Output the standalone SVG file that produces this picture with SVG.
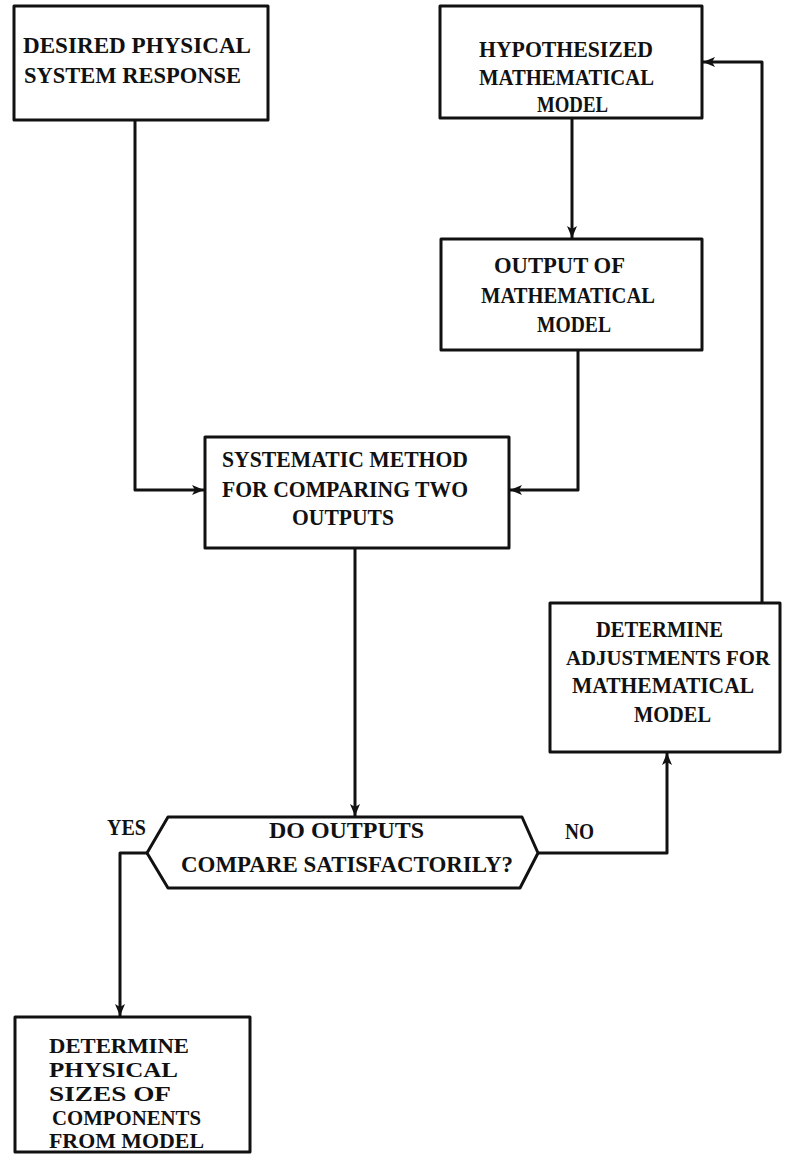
<svg xmlns="http://www.w3.org/2000/svg" width="787" height="1170" viewBox="0 0 787 1170">
<defs>
<style>
.box{fill:none;stroke:#111;stroke-width:3;stroke-linejoin:round}
.ln{fill:none;stroke:#111;stroke-width:3;stroke-linejoin:round}
text{font-family:"Liberation Serif","Times New Roman",serif;font-weight:bold;font-size:24px;fill:#111}
.lbl{font-size:23px}
.sm{font-size:20px}
.md{font-size:21px}
</style>
<marker id="ah" viewBox="0 0 12 10" refX="12" refY="5" markerWidth="12" markerHeight="10" markerUnits="userSpaceOnUse" orient="auto">
<path d="M0,0 L12,5 L0,10 L3,5 Z" fill="#111"/>
</marker>
</defs>
<rect width="787" height="1170" fill="#fff"/>
<g id="connectors">
<path class="ln" d="M135,120 V490 H204" marker-end="url(#ah)"/>
<path class="ln" d="M572,118 V238" marker-end="url(#ah)"/>
<path class="ln" d="M578,350 V490 H510" marker-end="url(#ah)"/>
<path class="ln" d="M355,548 V816" marker-end="url(#ah)"/>
<path class="ln" d="M147,853 H120 V1016" marker-end="url(#ah)"/>
<path class="ln" d="M538,853 H667 V753" marker-end="url(#ah)"/>
<path class="ln" d="M762,603 V62 H703" marker-end="url(#ah)"/>
</g>
<g id="desired">
<rect class="box" x="14" y="6" width="254" height="114"/>
<text x="23" y="53" textLength="228" lengthAdjust="spacingAndGlyphs">DESIRED PHYSICAL</text>
<text x="24" y="83" textLength="217" lengthAdjust="spacingAndGlyphs">SYSTEM RESPONSE</text>
</g>
<g id="hypothesized">
<rect class="box" x="440" y="6" width="262" height="112"/>
<text x="479" y="57" textLength="174" lengthAdjust="spacingAndGlyphs">HYPOTHESIZED</text>
<text x="479" y="85" textLength="175" lengthAdjust="spacingAndGlyphs">MATHEMATICAL</text>
<text x="537" y="112" textLength="71" lengthAdjust="spacingAndGlyphs">MODEL</text>
</g>
<g id="output">
<rect class="box" x="441" y="239" width="261" height="111"/>
<text x="494" y="273" textLength="131" lengthAdjust="spacingAndGlyphs">OUTPUT OF</text>
<text x="481" y="303" textLength="174" lengthAdjust="spacingAndGlyphs">MATHEMATICAL</text>
<text x="537" y="332" textLength="74" lengthAdjust="spacingAndGlyphs">MODEL</text>
</g>
<g id="compare">
<rect class="box" x="205" y="437" width="304" height="111"/>
<text x="222" y="467" textLength="246" lengthAdjust="spacingAndGlyphs">SYSTEMATIC METHOD</text>
<text x="222" y="497" textLength="246" lengthAdjust="spacingAndGlyphs">FOR COMPARING TWO</text>
<text x="292" y="525" textLength="102" lengthAdjust="spacingAndGlyphs">OUTPUTS</text>
</g>
<g id="decision">
<path class="box" d="M168,817 H522 L538,853 L520,888 H168 L147,853 Z"/>
<text x="269" y="838" textLength="155" lengthAdjust="spacingAndGlyphs">DO OUTPUTS</text>
<text x="181" y="872" textLength="332" lengthAdjust="spacingAndGlyphs">COMPARE SATISFACTORILY?</text>
</g>
<g id="adjust">
<rect class="box" x="550" y="603" width="230" height="149"/>
<text x="596" y="637" textLength="127" lengthAdjust="spacingAndGlyphs">DETERMINE</text>
<text class="md" x="566" y="665" textLength="204" lengthAdjust="spacingAndGlyphs">ADJUSTMENTS FOR</text>
<text x="572" y="693" textLength="182" lengthAdjust="spacingAndGlyphs">MATHEMATICAL</text>
<text x="634" y="722" textLength="77" lengthAdjust="spacingAndGlyphs">MODEL</text>
</g>
<g id="sizes">
<rect class="box" x="15" y="1017" width="235" height="135"/>
<text class="sm" x="49" y="1053" textLength="140" lengthAdjust="spacingAndGlyphs">DETERMINE</text>
<text class="sm" x="49" y="1077" textLength="129" lengthAdjust="spacingAndGlyphs">PHYSICAL</text>
<text class="sm" x="49" y="1101" textLength="122" lengthAdjust="spacingAndGlyphs">SIZES OF</text>
<text class="sm" x="52" y="1125" textLength="149" lengthAdjust="spacingAndGlyphs">COMPONENTS</text>
<text class="sm" x="49" y="1148" textLength="155" lengthAdjust="spacingAndGlyphs">FROM MODEL</text>
</g>
<g id="labels">
<text class="lbl" x="107" y="835" textLength="39" lengthAdjust="spacingAndGlyphs">YES</text>
<text class="lbl" x="565" y="839" textLength="29" lengthAdjust="spacingAndGlyphs">NO</text>
</g>
</svg>
